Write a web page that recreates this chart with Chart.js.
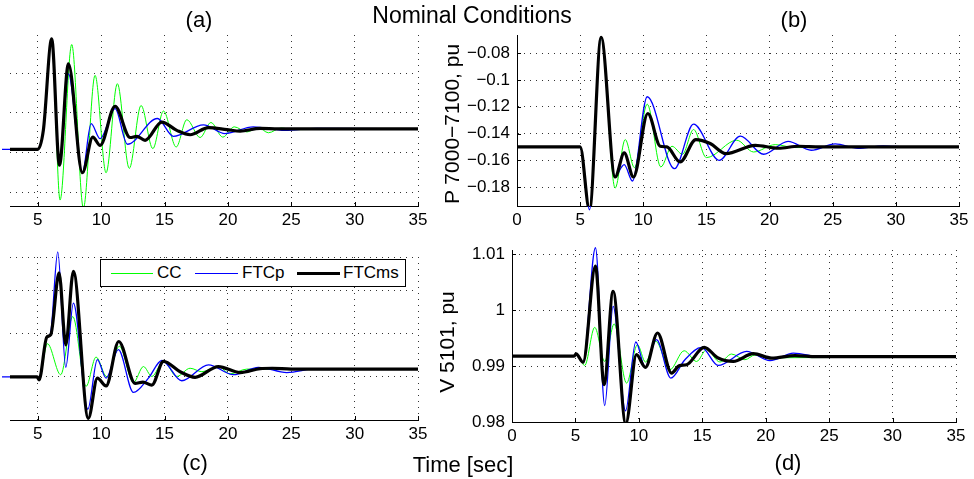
<!DOCTYPE html>
<html>
<head>
<meta charset="utf-8">
<script src="https://cdn.jsdelivr.net/npm/chart.js@4.4.0/dist/chart.umd.min.js"></script>
<style>
    body { margin: 0; background: #fff; }
    #page { position: relative; width: 974px; height: 479px; overflow: hidden; font-family: "Liberation Sans", Arial, sans-serif; color: #000; }
    #page canvas { position: absolute; left: 0; top: 0; }
    .txt { position: absolute; font-size: 22px; white-space: nowrap; transform: translate(-50%, -50%); }
    .ytitle { position: absolute; font-size: 21px; white-space: nowrap; transform: translate(-50%, -50%) rotate(-90deg); }
    #legend { position: absolute; left: 100px; top: 259px; width: 306px; height: 28px; border: 1px solid #000; background: #fff; box-sizing: border-box; }
    .lg-line { position: absolute; }
    .lg-txt { position: absolute; font-size: 17px; top: 273px; transform: translateY(-50%); }
</style>
</head>
<body>
<div id="page">
    <canvas id="chartA" width="974" height="479"></canvas>
    <canvas id="chartB" width="974" height="479"></canvas>
    <canvas id="chartC" width="974" height="479"></canvas>
    <canvas id="chartD" width="974" height="479"></canvas>

    <div class="txt" style="left:199px;top:20px">(a)</div>
    <div class="txt" style="left:472px;top:15px;font-size:23px">Nominal Conditions</div>
    <div class="txt" style="left:794px;top:20px">(b)</div>
    <div class="txt" style="left:195px;top:463px">(c)</div>
    <div class="txt" style="left:463px;top:465px">Time [sec]</div>
    <div class="txt" style="left:788px;top:463px">(d)</div>
    <div class="ytitle" style="left:452px;top:124px">P 7000−7100, pu</div>
    <div class="ytitle" style="left:447px;top:342px">V 5101, pu</div>

    <div id="legend"></div>
    <div class="lg-line" style="left:111px;top:273px;width:42px;height:1px;background:#00ff00"></div>
    <div class="lg-txt" style="left:157px">CC</div>
    <div class="lg-line" style="left:195px;top:273px;width:43px;height:1.4px;background:#0000ff"></div>
    <div class="lg-txt" style="left:242px">FTCp</div>
    <div class="lg-line" style="left:297px;top:272px;width:43px;height:3px;background:#000"></div>
    <div class="lg-txt" style="left:343px">FTCms</div>
</div>

<script>
// ---- panel (a): left upper, y units unknown (labels cropped) ----
const aTimeCC   = [0, 5.0, 5.44, 6.1, 6.76, 7.68, 8.6, 9.52, 10.39, 11.28, 12.22, 13.15, 14.08, 14.92, 15.92, 16.76, 17.81, 18.66, 19.6, 20.5, 21.5, 22.4, 23.2, 24.2, 25.2, 35];
const aCC       = [1.08, 1.08, 1.56, 3.87, -0.2, 3.73, -0.4, 2.95, 0.49, 2.74, 0.6, 2.19, 1.1, 2.05, 1.14, 1.83, 1.38, 1.76, 1.39, 1.65, 1.52, 1.63, 1.5, 1.62, 1.58, 1.6];
const aTimeFTCp = [0, 5.0, 5.44, 6.1, 6.71, 7.42, 8.52, 9.21, 9.92, 11.1, 12.07, 14.44, 15.7, 18.07, 19.78, 22.0, 24.5, 27, 35];
const aFTCp     = [1.08, 1.08, 1.56, 3.87, 0.68, 2.99, 0.5, 1.73, 1.35, 2.11, 1.21, 1.86, 1.41, 1.7, 1.48, 1.65, 1.56, 1.61, 1.6];
const aTimeFTCms = [0, 5.0, 5.44, 6.1, 6.71, 7.42, 8.52, 9.34, 9.92, 11.1, 12.29, 12.81, 13.47, 14.79, 15.97, 17.02, 18.47, 19.92, 20.97, 22.55, 24, 35];
const aFTCms     = [1.08, 1.08, 1.56, 3.87, 0.68, 3.24, 0.49, 1.39, 1.18, 2.17, 1.38, 1.41, 1.31, 1.77, 1.56, 1.45, 1.63, 1.58, 1.54, 1.61, 1.6, 1.6];

// ---- panel (b): P 7000-7100, pu ----
const bTimeCC   = [0, 5.0, 5.74, 6.66, 7.77, 8.57, 9.3, 10.31, 11.39, 12.27, 13.1, 13.98, 15.0, 17.4, 18.73, 20.45, 22, 35];
const bCC       = [-0.15, -0.15, -0.197, -0.068, -0.1808, -0.1445, -0.1655, -0.118, -0.165, -0.1495, -0.1555, -0.137, -0.158, -0.145, -0.1538, -0.1483, -0.1505, -0.15];
const bTimeFTCp = [0, 5.0, 5.74, 6.66, 7.75, 8.49, 9.14, 10.31, 12.47, 13.98, 16.01, 17.68, 19.53, 21.46, 23.3, 25.2, 27.0, 29.0, 31, 35];
const bFTCp     = [-0.15, -0.15, -0.197, -0.068, -0.172, -0.1632, -0.1755, -0.1125, -0.1663, -0.133, -0.16, -0.142, -0.1555, -0.1458, -0.1525, -0.1478, -0.151, -0.1492, -0.1502, -0.15];
const bTimeFTCms = [0, 5.0, 5.74, 6.66, 7.77, 8.49, 9.22, 10.36, 11.34, 11.87, 12.92, 14.16, 15.3, 16.54, 18.87, 20.7, 22.3, 24, 35];
const bFTCms     = [-0.15, -0.15, -0.197, -0.068, -0.1725, -0.1545, -0.1725, -0.125, -0.1495, -0.15, -0.1613, -0.1445, -0.1475, -0.155, -0.1488, -0.151, -0.1495, -0.15, -0.15];
const bTicks = [-0.18, -0.16, -0.14, -0.12, -0.1, -0.08];

// ---- panel (c): left lower, y units unknown (labels cropped) ----
const cTimeCC   = [0, 4.95, 5.1, 5.76, 6.81, 7.76, 8.81, 9.6, 10.45, 11.44, 12.55, 13.34, 14.0, 14.92, 15.97, 17.02, 17.95, 19.25, 20.18, 21.5, 35];
const cCC       = [1.0, 1.0, 0.93, 1.77, 1.05, 2.4, 0.78, 1.46, 1.0, 1.71, 0.87, 1.24, 1.01, 1.36, 1.01, 1.2, 1.12, 1.24, 1.07, 1.18, 1.18];
const cTimeFTCp = [0, 4.95, 5.1, 5.71, 6.0, 6.58, 7.21, 7.81, 8.95, 9.7, 10.39, 11.36, 12.55, 13.73, 14.79, 16.36, 18.47, 20.44, 22.41, 24.65, 27, 35];
const cFTCp     = [1.0, 1.0, 0.93, 1.92, 2.0, 3.9, 1.22, 2.71, 0.25, 1.4, 0.97, 1.63, 0.64, 0.97, 1.38, 0.91, 1.28, 1.05, 1.22, 1.1, 1.19, 1.18];
const cTimeFTCms = [0, 4.95, 5.1, 5.71, 6.03, 6.68, 7.21, 7.81, 8.99, 9.7, 10.39, 11.39, 12.68, 13.3, 14.0, 14.92, 16.23, 17.41, 19.25, 20.97, 22.55, 23.5, 25, 35];
const cFTCms     = [1.0, 1.0, 0.93, 1.92, 1.98, 3.41, 1.74, 3.45, 0.04, 0.97, 0.79, 1.82, 0.85, 0.88, 0.81, 1.36, 1.12, 0.99, 1.24, 1.1, 1.19, 1.2, 1.18, 1.18];

// ---- panel (d): V 5101, pu ----
const dTimeCC   = [0, 4.9, 5.05, 5.73, 6.52, 7.31, 8.05, 9.03, 9.89, 10.52, 11.34, 12.44, 13.57, 14.55, 15.34, 16.39, 17.31, 18.36, 19.15, 20.5, 35];
const dCC       = [0.9918, 0.9918, 0.9922, 0.99013, 0.99695, 0.99084, 0.99756, 0.98697, 0.99384, 0.99074, 0.99443, 0.98935, 0.99276, 0.99084, 0.99294, 0.99074, 0.99217, 0.99115, 0.992, 0.9915, 0.9917];
const dTimeFTCp = [0, 4.9, 5.05, 5.6, 6.58, 7.31, 7.97, 8.95, 9.76, 10.5, 11.39, 12.52, 13.63, 14.94, 16.25, 18.5, 20.34, 22.18, 24.5, 35];
const dFTCp     = [0.9918, 0.9918, 0.9922, 0.9907, 1.0112, 0.98295, 1.0007, 0.982, 0.99433, 0.9898, 0.99474, 0.98786, 0.99115, 0.99336, 0.99013, 0.99264, 0.991, 0.99235, 0.9916, 0.9917];
const dTimeFTCms = [0, 4.9, 5.05, 5.6, 6.58, 7.26, 7.97, 8.97, 9.81, 10.52, 11.47, 12.58, 13.2, 13.76, 15.15, 16.25, 17.44, 19.02, 20.47, 22.3, 24, 35];
const dFTCms     = [0.9918, 0.9918, 0.9922, 0.9907, 1.0079, 0.9867, 1.0034, 0.9797, 0.99205, 0.98977, 0.99594, 0.98876, 0.9901, 0.99025, 0.99336, 0.99145, 0.99084, 0.99223, 0.99145, 0.9919, 0.9917, 0.9917];
const dTicks = [0.98, 0.99, 1.0, 1.01];

const timeTicks = [0, 5, 10, 15, 20, 25, 30, 35];

// zip two arrays into {x, y} points for chart.js
const pts = (ts, vs) => ts.map((t, i) => ({ x: t, y: vs[i] }));

// matlab-ish ticks pointing inward
const innerTicks = {
    id: 'innerTicks',
    afterDraw(chart) {
        const ctx = chart.ctx, area = chart.chartArea;
        ctx.save();
        ctx.strokeStyle = '#000';
        ctx.lineWidth = 1;
        chart.scales.x.ticks.forEach(t => {
            const px = Math.round(chart.scales.x.getPixelForValue(t.value)) + 0.5;
            ctx.beginPath(); ctx.moveTo(px, area.bottom); ctx.lineTo(px, area.bottom - 4); ctx.stroke();
        });
        if (chart.options.scales.y.ticks.display) {
            chart.scales.y.ticks.forEach(t => {
                const py = Math.round(chart.scales.y.getPixelForValue(t.value)) + 0.5;
                ctx.beginPath(); ctx.moveTo(area.left, py); ctx.lineTo(area.left + 4, py); ctx.stroke();
            });
        }
        ctx.restore();
    }
};

const fmt = v => String(+Number(v).toFixed(4)).replace('-', '\u2212');

// build one subplot; box = chart area in page pixels
function makePanel(id, box, xMin, yMin, yMax, yTicks, yLabels, series, topLine) {
    const yw = yLabels ? 80 : 0, xh = 30;
    const datasets = [
        { label: 'FTCms', data: pts(series[4], series[5]), borderColor: '#000000', borderWidth: 3.2, order: 1 },
        { label: 'FTCp',  data: pts(series[2], series[3]), borderColor: '#0000ff', borderWidth: 1.3, order: 2, clip: 8 },
        { label: 'CC',    data: pts(series[0], series[1]), borderColor: '#00ff00', borderWidth: 1, order: 3 }
    ].map(d => Object.assign({ pointRadius: 0, fill: false, cubicInterpolationMode: 'monotone' }, d));

    const yTickList = topLine ? yTicks.concat([yMax]) : yTicks;

    return new Chart(document.getElementById(id), {
        type: 'line',
        data: { datasets: datasets },
        options: {
            responsive: false,
            animation: false,
            events: [],
            layout: { padding: { left: box.left - yw, top: box.top, right: 974 - box.right, bottom: 479 - box.bottom - xh } },
            plugins: { legend: { display: false }, tooltip: { enabled: false } },
            scales: {
                x: {
                    type: 'linear', min: xMin, max: 35,
                    afterFit: s => { s.height = xh; },
                    afterBuildTicks: s => { s.ticks = timeTicks.filter(v => v >= xMin).map(v => ({ value: v })); },
                    grid: { color: 'rgba(0,0,0,0.8)', lineWidth: 1, drawTicks: false },
                    border: { display: true, color: '#000', width: 1, dash: [1, 5] },
                    ticks: { color: '#000', font: { family: 'Liberation Sans', size: 17 }, padding: 4, maxRotation: 0, autoSkip: false, callback: fmt }
                },
                y: {
                    type: 'linear', min: yMin, max: yMax,
                    afterFit: s => { s.width = yw; },
                    afterBuildTicks: s => { s.ticks = yTickList.map(v => ({ value: v })); },
                    grid: { color: 'rgba(0,0,0,0.8)', lineWidth: 1, drawTicks: false },
                    border: { display: !!yLabels, color: '#000', width: 1, dash: [1, 5] },
                    ticks: { display: !!yLabels, color: '#000', font: { family: 'Liberation Sans', size: 17 }, padding: 7, callback: fmt }
                }
            }
        },
        plugins: [innerTicks]
    });
}

makePanel('chartA', { left: 10, top: 35, right: 418, bottom: 206 }, 2.81, -0.35, 3.97, [0, 1, 2, 3], false,
    [aTimeCC, aCC, aTimeFTCp, aFTCp, aTimeFTCms, aFTCms], false);
makePanel('chartB', { left: 517, top: 35, right: 959, bottom: 206 }, 0, -0.1942, -0.0663, bTicks, true,
    [bTimeCC, bCC, bTimeFTCp, bFTCp, bTimeFTCms, bFTCms], false);
makePanel('chartC', { left: 10, top: 257, right: 418, bottom: 420 }, 2.81, 0, 3.78, [0, 1, 2, 3], false,
    [cTimeCC, cCC, cTimeFTCp, cFTCp, cTimeFTCms, cFTCms], true);
makePanel('chartD', { left: 512, top: 250, right: 956, bottom: 422 }, 0, 0.98, 1.0108, dTicks, true,
    [dTimeCC, dCC, dTimeFTCp, dFTCp, dTimeFTCms, dFTCms], false);
</script>
</body>
</html>
